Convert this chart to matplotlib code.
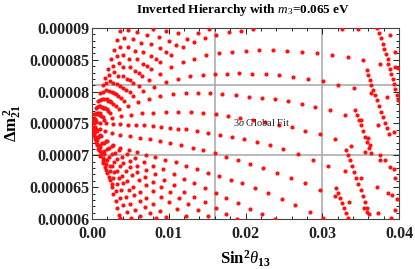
"""Inverted hierarchy scan: Delta m21^2 against sin^2 theta13 (m3 = 0.065 eV)."""

import matplotlib
matplotlib.use("Agg")
import matplotlib.pyplot as plt
import matplotlib.ticker as mticker
import numpy as np

plt.rcParams["font.family"] = ["Liberation Serif", "DejaVu Serif"]
plt.rcParams["mathtext.fontset"] = "custom"
plt.rcParams["mathtext.rm"] = "Liberation Serif"
plt.rcParams["mathtext.it"] = "Liberation Serif:italic"
plt.rcParams["mathtext.bf"] = "Liberation Serif:bold"

# Scan points.
# x values are sin^2(theta13) in units of 1e-3, y values Delta m21^2 in 1e-6 eV^2.
u1_x = [0.1, 0.3, 0.5, 0.8, 1.1, 1.4, 1.7, 2.1, 2.5, 2.9, 3.3, 3.7]
u1_y = [75.5, 76.5, 77.5, 78.6, 79.8, 81.0, 82.2, 83.6, 85.1, 86.6, 88.1, 89.6]
u2_x = [0.2, 0.4, 0.7, 1.0, 1.4, 1.8, 2.2, 2.7, 3.2, 3.7, 4.2, 4.7]
u2_y = [75.6, 76.5, 77.6, 78.7, 80.0, 81.3, 82.6, 84.1, 85.6, 87.0, 88.4, 89.7]
u3_x = [0.2, 0.5, 0.9, 1.3, 1.8, 2.3, 2.9, 3.5, 4.1, 4.7, 5.3, 5.9]
u3_y = [75.6, 76.5, 77.7, 78.9, 80.3, 81.6, 83.1, 84.5, 85.8, 87.0, 88.2, 89.3]
u4_x = [0.3, 0.7, 1.1, 1.6, 2.2, 2.8, 3.4, 4.1, 4.8, 5.6, 6.4, 7.2, 7.9]
u4_y = [75.7, 76.7, 77.7, 78.8, 80.1, 81.3, 82.5, 83.8, 85.1, 86.4, 87.7, 88.9, 89.9]
u5_x = [0.3, 0.8, 1.3, 1.9, 2.6, 3.3, 4.1, 4.9, 5.8, 6.7, 7.7, 8.7, 9.7]
u5_y = [75.6, 76.6, 77.6, 78.8, 80.0, 81.2, 82.5, 83.8, 85.1, 86.3, 87.5, 88.6, 89.6]
u6_x = [0.3, 0.8, 1.4, 2.1, 2.9, 3.7, 4.6, 5.6, 6.6, 7.7, 8.8, 10.0, 11.2]
u6_y = [75.6, 76.5, 77.5, 78.6, 79.8, 80.9, 82.0, 83.2, 84.4, 85.6, 86.8, 88.0, 89.2]
u7_x = [0.3, 0.9, 1.5, 2.3, 3.1, 4.0, 5.0, 6.1, 7.2, 8.4, 9.7, 11.0, 12.4, 13.8, 15.2]
u7_y = [75.6, 76.5, 77.4, 78.5, 79.6, 80.6, 81.8, 82.9, 84.0, 85.1, 86.2, 87.3, 88.3, 89.2, 89.9]

a_x = [0.4, 1.0, 1.7, 2.5, 3.4, 4.4, 5.4, 6.5, 7.7, 8.9, 10.3, 11.9, 13.3, 14.7,
       16.2, 17.9, 19.4, 21.0]
a_y = [75.7, 76.6, 77.5, 78.4, 79.3, 80.3, 81.3, 82.4, 83.5, 84.6, 85.8, 87.0, 87.8, 88.5,
       88.9, 89.3, 89.6, 89.9]
b_x = [0.4, 1.1, 1.9, 2.8, 3.8, 4.9, 6.1, 7.4, 8.8, 10.3, 11.8, 13.3, 14.9, 16.5, 18.2,
       20.0, 21.8, 23.6, 25.4, 27.4, 29.3, 31.3, 33.4, 35.3, 37.5, 39.5]
b_y = [75.6, 76.4, 77.2, 78.1, 79.0, 80.0, 80.9, 81.8, 82.8, 83.8, 84.6, 85.2, 85.7, 86.0, 86.2,
       86.4, 86.5, 86.5, 86.4, 86.3, 86.1, 85.8, 85.4, 84.9, 84.4, 83.8]
c_x = [0.4, 1.2, 2.1, 3.1, 4.2, 5.4, 6.7, 8.1, 9.6, 11.2, 12.8, 14.4, 16.0, 17.6, 19.2,
       20.9, 22.7, 24.4, 26.2, 28.1, 30.1, 32.0, 34.1, 36.3, 38.4]
c_y = [75.5, 76.2, 76.9, 77.7, 78.5, 79.3, 80.1, 80.8, 81.5, 82.0, 82.4, 82.6, 82.8, 82.8, 82.9,
       82.8, 82.8, 82.6, 82.3, 82.0, 81.6, 81.1, 80.5, 79.8, 79.1]
d_x = [0.5, 1.4, 2.4, 3.5, 4.7, 6.0, 7.4, 8.9, 10.5, 12.2, 13.8, 15.4, 17.0, 18.7, 20.4,
       22.1, 23.8, 25.5, 27.3, 29.1, 31.0, 33.0, 35.1, 37.2, 39.3]
d_y = [75.4, 76.0, 76.6, 77.2, 77.8, 78.4, 78.9, 79.3, 79.6, 79.8, 79.8, 79.8, 79.6, 79.4, 79.2,
       79.0, 78.8, 78.5, 78.1, 77.6, 77.1, 76.4, 75.6, 74.7, 73.6]
e_x = [0.5, 1.5, 2.6, 3.8, 5.1, 6.5, 8.0, 9.6, 11.2, 12.9, 14.5, 16.1, 17.7, 19.3, 21.0,
       22.6, 24.3, 26.0, 27.8, 29.7, 31.7, 33.7, 35.6, 37.5, 39.4]
e_y = [75.2, 75.5, 75.8, 76.1, 76.4, 76.6, 76.7, 76.8, 76.8, 76.8, 76.7, 76.5, 76.2, 75.9, 75.5,
       75.2, 74.8, 74.4, 73.9, 73.3, 72.5, 71.5, 70.5, 69.3, 67.9]
f_x = [0.3, 1.0, 1.8, 2.7, 3.7, 4.7, 5.7, 6.8, 7.9, 9.0, 10.1, 11.2, 12.3, 13.7, 15.1,
       16.7, 18.2, 19.8, 21.5, 23.2, 24.9, 26.8, 28.8, 30.8, 32.9, 35.0, 37.1, 38.6, 39.8]
f_y = [75.1, 75.1, 75.0, 74.9, 74.9, 74.8, 74.8, 74.7, 74.6, 74.4, 74.3, 74.2, 74.1, 73.8, 73.5,
       73.2, 72.9, 72.6, 72.1, 71.6, 71.0, 70.2, 69.3, 68.4, 67.5, 66.5, 65.1, 64.1, 63.1]
g_x = [0.4, 1.0, 1.7, 2.6, 3.7, 5.0, 6.3, 7.5, 8.8, 10.2, 11.6, 13.1, 14.5, 16.0, 17.5,
       19.0, 20.6, 22.3, 24.1, 25.9, 27.8, 29.7, 31.7, 33.5, 35.5, 37.3, 39.0]
g_y = [74.5, 74.1, 73.8, 73.5, 73.2, 73.0, 72.8, 72.6, 72.3, 72.0, 71.6, 71.2, 70.8, 70.3, 69.8,
       69.3, 68.7, 68.0, 67.2, 66.5, 65.6, 64.6, 63.6, 62.7, 61.8, 61.0, 60.2]
h_x = [0.6, 1.2, 1.9, 2.7, 3.7, 4.8, 5.9, 7.0, 8.2, 9.5, 10.9, 12.3, 13.7, 15.1, 16.6,
       18.1, 19.6, 21.3, 22.9, 24.7, 26.5, 28.4, 30.1]
h_y = [73.9, 73.0, 72.3, 71.7, 71.2, 70.9, 70.5, 70.1, 69.7, 69.3, 68.9, 68.4, 67.9, 67.3, 66.8,
       66.2, 65.6, 64.9, 64.1, 63.2, 62.2, 61.1, 60.2]
i_x = [0.5, 1.1, 1.8, 2.6, 3.5, 4.5, 5.6, 6.8, 8.0, 9.3, 10.7, 12.0, 13.3, 14.7, 16.1,
       17.5, 19.0, 20.6, 22.2, 23.8]
i_y = [74.1, 73.2, 72.3, 71.5, 70.8, 70.2, 69.6, 69.0, 68.4, 67.8, 67.0, 66.3, 65.6, 64.9, 64.1,
       63.3, 62.5, 61.6, 60.8, 60.0]

l8_x = [0.4, 0.9, 1.5, 2.2, 3.0, 3.9, 4.9, 5.9, 7.0, 8.2, 9.4, 10.7, 12.0, 13.3, 14.7,
        16.1, 17.5, 18.9]
l8_y = [74.0, 73.0, 72.0, 71.1, 70.4, 69.7, 69.1, 68.4, 67.7, 67.0, 66.2, 65.3, 64.3, 63.5, 62.6,
        61.7, 60.8, 60.0]
l7_x = [0.4, 0.8, 1.3, 1.9, 2.6, 3.3, 4.1, 5.0, 5.9, 6.9, 7.9, 9.0, 10.1, 11.3, 12.5, 13.8, 15.1]
l7_y = [73.9, 72.9, 71.9, 71.0, 70.2, 69.5, 68.8, 68.1, 67.4, 66.6, 65.8, 65.0, 64.2, 63.3, 62.4,
        61.4, 60.4]
l6_x = [0.3, 0.7, 1.1, 1.6, 2.2, 2.9, 3.6, 4.4, 5.2, 6.1, 7.0, 8.0, 9.0, 10.0, 11.1, 12.2]
l6_y = [73.8, 72.7, 71.7, 70.7, 69.8, 69.0, 68.3, 67.6, 66.9, 66.1, 65.3, 64.4, 63.5, 62.6,
        61.5, 60.5]
l5_x = [0.3, 0.6, 1.0, 1.5, 2.0, 2.6, 3.2, 3.9, 4.6, 5.4, 6.2, 7.0, 7.9, 8.8, 9.7]
l5_y = [73.5, 72.4, 71.3, 70.2, 69.3, 68.4, 67.6, 66.8, 66.0, 65.1, 64.2, 63.3, 62.3, 61.3, 60.3]
l4_x = [0.2, 0.5, 0.9, 1.3, 1.8, 2.3, 2.9, 3.5, 4.1, 4.8, 5.5, 6.2, 6.9, 7.6, 8.3]
l4_y = [73.6, 72.4, 71.3, 70.3, 69.3, 68.4, 67.4, 66.5, 65.6, 64.6, 63.7, 62.8, 61.9, 61.0, 60.2]
l3_x = [0.2, 0.4, 0.7, 1.0, 1.4, 1.8, 2.3, 2.8, 3.3, 3.8, 4.4, 5.0, 5.6, 6.2]
l3_y = [74.0, 72.9, 71.8, 70.7, 69.6, 68.6, 67.5, 66.5, 65.5, 64.5, 63.4, 62.4, 61.4, 60.4]
l2_x = [0.1, 0.3, 0.5, 0.8, 1.1, 1.4, 1.8, 2.2, 2.6, 3.1, 3.6, 4.1, 4.6, 5.1]
l2_y = [74.3, 73.2, 72.1, 71.0, 69.9, 68.8, 67.7, 66.6, 65.5, 64.4, 63.3, 62.2, 61.1, 60.1]
l1_x = [0.1, 0.2, 0.4, 0.6, 0.9, 1.1, 1.4, 1.7, 2.0, 2.3, 2.6, 2.8, 3.1, 3.3, 3.5, 3.7]
l1_y = [74.4, 73.5, 72.6, 71.7, 70.8, 70.0, 69.1, 68.2, 67.2, 66.1, 65.0, 63.9, 62.8, 61.7,
        60.6, 60.2]

# dense, nearly vertical streaks at the right
s1_x = [37.1, 37.4, 37.7, 37.9, 38.1, 38.3, 38.5, 38.6, 38.8, 39.0, 39.2, 39.4, 39.5, 39.7, 39.9]
s1_y = [90.0, 89.2, 88.4, 87.5, 86.7, 85.9, 85.1, 84.3, 83.6, 82.8, 82.0, 81.2, 80.4, 79.5, 78.7]
s2_x = [35.8, 36.0, 36.2, 36.3, 36.6, 36.9, 37.1, 37.4, 37.7, 37.9, 38.2, 38.4, 38.7]
s2_y = [83.4, 82.6, 81.9, 81.1, 80.3, 79.5, 78.7, 77.8, 76.8, 76.0, 75.1, 74.3, 73.4]
s3_x = [34.3, 34.5, 34.8, 35.1, 35.3, 35.6, 35.8, 36.1, 36.4]
s3_y = [77.1, 76.3, 75.6, 74.8, 73.8, 72.9, 72.1, 71.2, 70.4]
s4_x = [33.1, 33.4, 33.6, 33.9, 34.1, 34.4, 34.7, 35.1, 35.3, 35.6, 35.8, 36.1]
s4_y = [70.8, 70.1, 69.3, 68.3, 67.4, 66.4, 65.5, 64.6, 63.6, 62.7, 61.7, 60.8]
s5_x = [31.8, 32.1, 32.3, 32.6, 32.8, 33.1, 33.4]
s5_y = [64.9, 64.1, 63.3, 62.5, 61.7, 60.9, 60.2]

# loose points along the top and right edges
edge_x = [32.6, 34.7, 38.8, 39.5, 39.9, 36.0, 36.2, 37.5, 38.2, 38.8, 39.5, 39.1, 39.5, 35.8]
edge_y = [89.9, 89.8, 88.9, 86.2, 83.7, 72.7, 71.6, 70.0, 69.3, 68.2, 66.4, 63.8, 61.4, 61.1]

x_ticks = [0.0, 0.01, 0.02, 0.03, 0.04]
x_tick_labels = ["0.00", "0.01", "0.02", "0.03", "0.04"]
y_ticks = [6e-5, 6.5e-5, 7e-5, 7.5e-5, 8e-5, 8.5e-5, 9e-5]
y_tick_labels = ["0.00006", "0.000065", "0.00007", "0.000075", "0.00008", "0.000085", "0.00009"]

# 3 sigma global fit ranges drawn as grid lines
fit_x_lines = [0.016, 0.030]
fit_y_lines = [8.1e-5, 7.0e-5]

series = [
    (u1_x, u1_y), (u2_x, u2_y), (u3_x, u3_y), (u4_x, u4_y), (u5_x, u5_y),
    (u6_x, u6_y), (u7_x, u7_y), (a_x, a_y), (b_x, b_y), (c_x, c_y),
    (d_x, d_y), (e_x, e_y), (f_x, f_y), (g_x, g_y), (h_x, h_y), (i_x, i_y),
    (l8_x, l8_y), (l7_x, l7_y), (l6_x, l6_y), (l5_x, l5_y), (l4_x, l4_y),
    (l3_x, l3_y), (l2_x, l2_y), (l1_x, l1_y),
    (s1_x, s1_y), (s2_x, s2_y), (s3_x, s3_y), (s4_x, s4_y), (s5_x, s5_y),
    (edge_x, edge_y),
]

fig = plt.figure(figsize=(4.15, 2.69), dpi=100)
ax = fig.add_axes([0.2217, 0.1859, 0.7398, 0.7100])

for xv in fit_x_lines:
    ax.axvline(xv, color="#a6a6a6", linewidth=1.1, zorder=1)
for yv in fit_y_lines:
    ax.axhline(yv, color="#a6a6a6", linewidth=1.1, zorder=1)

for xs, ys in series:
    ax.scatter(np.array(xs) * 1e-3, np.array(ys) * 1e-6, s=9, color="#ff1010",
               linewidths=0, zorder=3, clip_on=True)

ax.text(0.0184, 7.51e-5, r"$3\sigma$ Global Fit", fontsize=7.5, ha="left",
        va="center", color="#222222", zorder=4)

ax.set_xlim(0, 0.04)
ax.set_ylim(6e-5, 9e-5)
ax.set_xticks(x_ticks)
ax.set_xticklabels(x_tick_labels)
ax.set_yticks(y_ticks)
ax.set_yticklabels(y_tick_labels)
ax.xaxis.set_minor_locator(mticker.MultipleLocator(0.002))
ax.yaxis.set_minor_locator(mticker.MultipleLocator(1e-6))
ax.tick_params(which="both", direction="in", top=True, right=True,
               colors="#222222", width=0.7)
ax.tick_params(which="major", length=4.5, labelsize=11.5)
ax.tick_params(axis="x", which="major", pad=5)
ax.tick_params(axis="y", which="major", pad=2)
ax.tick_params(which="minor", length=2.5)
for lab in ax.get_xticklabels() + ax.get_yticklabels():
    lab.set_fontweight("bold")
for sp in ax.spines.values():
    sp.set_color("#444444")
    sp.set_linewidth(0.8)

ax.set_xlabel(r"$\mathbf{Sin}^{\mathbf{2}}\theta_{\mathbf{13}}$", fontsize=12, labelpad=5)
ax.set_ylabel(r"$\mathbf{\Delta m}_{\mathbf{21}}^{\;\mathbf{2}}$", fontsize=12, labelpad=4)
fig.text(0.585, 1 - 10 / 269, r"Inverted Hierarchy with $m_3$=0.065 eV",
         ha="center", va="center", fontsize=9.5, fontweight="bold")

fig.savefig("out.png", dpi=100)
